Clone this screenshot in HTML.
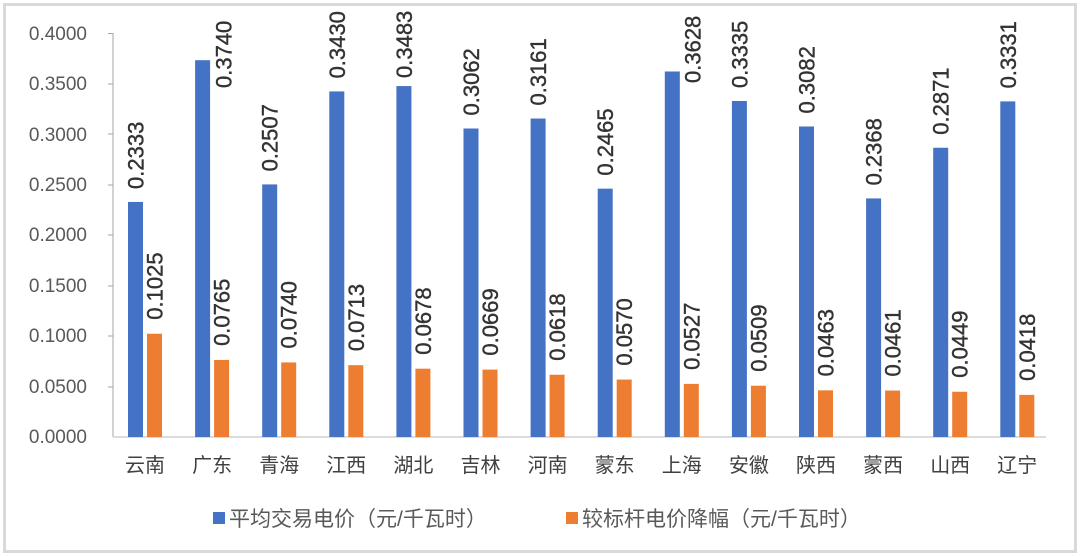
<!DOCTYPE html>
<html><head><meta charset="utf-8"><style>
body{margin:0;background:#fff;}
svg{display:block;font-family:"Liberation Sans","Noto Sans CJK SC",sans-serif;}
</style></head><body>
<svg width="1080" height="557" viewBox="0 0 1080 557">
<rect x="4.5" y="4.5" width="1071" height="547" fill="#fff" stroke="#d9d9d9" stroke-width="3"/>
<g fill="#595959" font-size="19" text-anchor="end">
<text x="87" y="443">0.0000</text>
<text x="87" y="393">0.0500</text>
<text x="87" y="342">0.1000</text>
<text x="87" y="292">0.1500</text>
<text x="87" y="241">0.2000</text>
<text x="87" y="191">0.2500</text>
<text x="87" y="141">0.3000</text>
<text x="87" y="90">0.3500</text>
<text x="87" y="40">0.4000</text>
</g>
<g stroke="#a6a6a6" stroke-width="1">
<line x1="113" y1="33" x2="113" y2="437"/>
<line x1="113" y1="437" x2="1046" y2="437" stroke="#d0d0d0" stroke-width="1.5"/>
<line x1="108" y1="33.5" x2="113" y2="33.5"/><line x1="108" y1="84" x2="113" y2="84"/>
<line x1="108" y1="134" x2="113" y2="134"/><line x1="108" y1="185" x2="113" y2="185"/>
<line x1="108" y1="235" x2="113" y2="235"/><line x1="108" y1="286" x2="113" y2="286"/>
<line x1="108" y1="336" x2="113" y2="336"/><line x1="108" y1="387" x2="113" y2="387"/>
</g>
<g id="bars"></g>
<g fill="#404040" font-size="20" text-anchor="middle" id="cats"></g>
<rect x="213" y="512" width="12" height="12" fill="#4472c4"/>
<text x="229" y="526" font-size="21" fill="#595959">平均交易电价（元/千瓦时）</text>
<rect x="566" y="512" width="12" height="12" fill="#ed7d31"/>
<text x="582" y="526" font-size="21" fill="#595959">较标杆电价降幅（元/千瓦时）</text>
</svg>
<script>
var cats=["云南","广东","青海","江西","湖北","吉林","河南","蒙东","上海","安徽","陕西","蒙西","山西","辽宁"];
var a=[0.2333,0.3740,0.2507,0.3430,0.3483,0.3062,0.3161,0.2465,0.3628,0.3335,0.3082,0.2368,0.2871,0.3331];
var b=[0.1025,0.0765,0.0740,0.0713,0.0678,0.0669,0.0618,0.0570,0.0527,0.0509,0.0463,0.0461,0.0449,0.0418];
var ns="http://www.w3.org/2000/svg",g=document.getElementById("bars"),c=document.getElementById("cats");
function el(t,at,txt,p){var e=document.createElementNS(ns,t);for(var k in at)e.setAttribute(k,at[k]);if(txt)e.textContent=txt;(p||g).appendChild(e);return e;}
for(var i=0;i<14;i++){
 var x=128+i*67.1;
 var ha=a[i]*1007.5,hb=b[i]*1007.5;
 el("rect",{x:x,y:437-ha,width:15,height:ha,fill:"#4472c4"});
 el("rect",{x:x+19,y:437-hb,width:15,height:hb,fill:"#ed7d31"});
 var lx=x+7.5+8,ly=Math.max(437-ha-13,78);
 if(i==1){lx=x+7.5+21+8;ly=88;}
 if(i==8){lx=x+7.5+20+8;ly=83;}
 var st={"font-size":"22",fill:"#333","stroke":"#333","stroke-width":"0.4"};
 var s1=Object.assign({transform:"translate("+lx+","+ly+") rotate(-90)"},st);
 el("text",s1,a[i].toFixed(4));
 var s2=Object.assign({transform:"translate("+(x+26.5+8)+","+(437-hb-14)+") rotate(-90)"},st);
 el("text",s2,b[i].toFixed(4));
 el("text",{x:x+17,y:472},cats[i],c);
}
</script>
</body></html>
